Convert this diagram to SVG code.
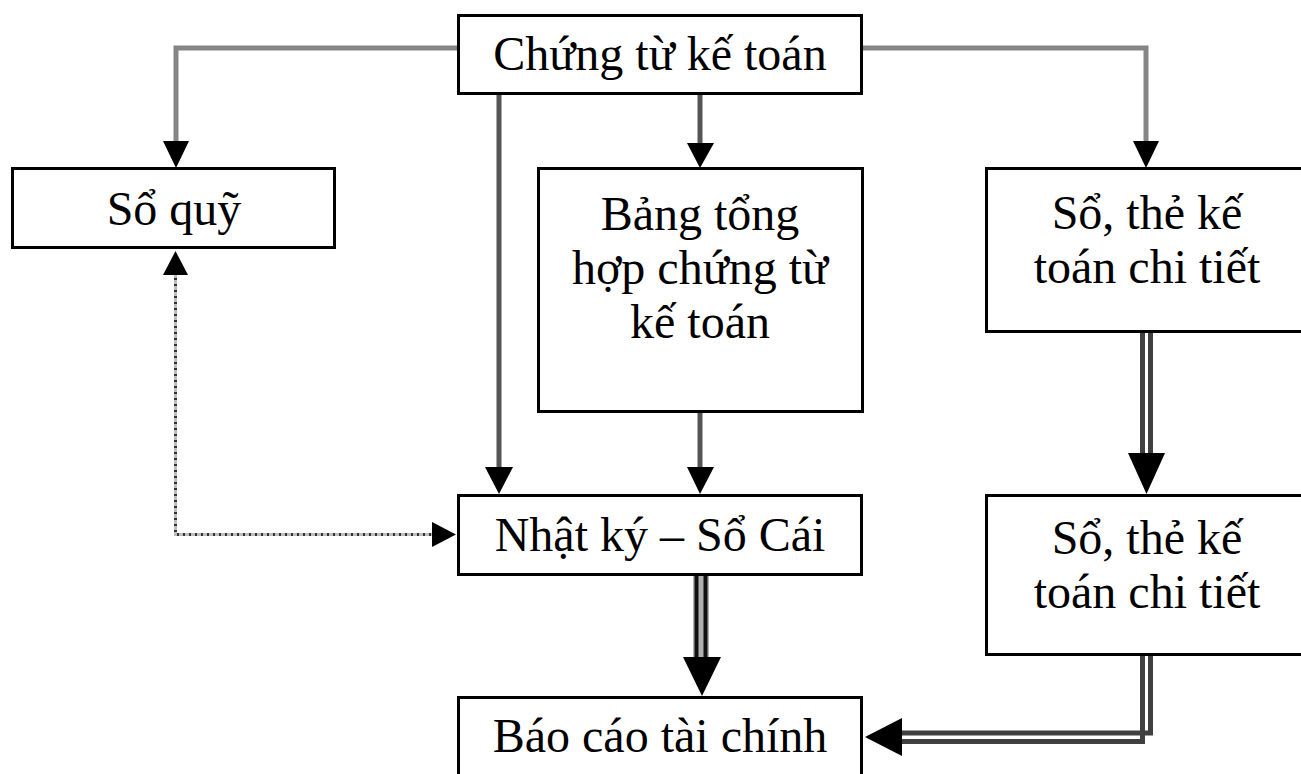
<svg xmlns="http://www.w3.org/2000/svg" width="1301" height="774" viewBox="0 0 1301 774">
<style>
.box{fill:#fff;stroke:#000;stroke-width:3}
.t{font-family:"Liberation Serif","Times New Roman",serif;font-size:48px;fill:#000;text-anchor:middle}
.s{fill:none;stroke:#858585;stroke-width:5}
.sv{fill:none;stroke:#555;stroke-width:5}
.dl{fill:none;stroke:#404040;stroke-width:5}
.dl2{fill:none;stroke:#111;stroke-width:4}
.dotbg{fill:none;stroke:#bdbdbd;stroke-width:3}
.dot{fill:none;stroke:#333;stroke-width:3;stroke-dasharray:2 4}
.ah{fill:#000}
</style>
<rect width="1301" height="774" fill="#fff"/>
<g id="connectors">
  <path class="s" d="M457 48 H176 V142"/>
  <path class="s" d="M863 48 H1146 V142"/>
  <path class="sv" d="M499 95 V468"/>
  <path class="sv" d="M700 95 V143"/>
  <path class="sv" d="M700 412 V468"/>
  <polygon class="ah" points="163,141 189,141 176,168"/>
  <polygon class="ah" points="1133,141 1159,141 1146,168"/>
  <polygon class="ah" points="485,467 513,467 499,494"/>
  <polygon class="ah" points="687,143 714,143 700,168"/>
  <polygon class="ah" points="687,467 714,467 700,494"/>
  <path class="dotbg" d="M175.5 272 V534.5 H434"/>
  <path class="dot" d="M175.5 272 V534.5 H434"/>
  <polygon class="ah" points="175.5,251 163,275 188,275"/>
  <polygon class="ah" points="456,534.5 432,522 432,547"/>
  <path d="M701 576 V660" fill="none" stroke="#b0b0b0" stroke-width="16"/>
  <path class="dl2" d="M696.5 576 V660"/>
  <path class="dl2" d="M705.5 576 V660"/>
  <polygon class="ah" points="683,657 721,657 702,696"/>
  <path class="dl" d="M1142.5 333 V456"/>
  <path class="dl" d="M1150.5 333 V456"/>
  <polygon class="ah" points="1128,453 1165,453 1146.5,494"/>
  <path class="dl" d="M1150.5 656 V733 H900"/>
  <path class="dl" d="M1142.5 656 V741.5 H900"/>
  <polygon class="ah" points="865,737 902,718 902,756"/>
</g>
<g id="chung-tu">
  <rect class="box" x="458.5" y="15.5" width="403" height="78"/>
  <text class="t" x="660" y="70">Chứng từ kế toán</text>
</g>
<g id="so-quy">
  <rect class="box" x="12.5" y="168.5" width="322" height="79"/>
  <text class="t" x="174" y="225">Sổ quỹ</text>
</g>
<g id="bang-tong-hop">
  <rect class="box" x="538.5" y="168.5" width="324" height="243"/>
  <text class="t" x="700" y="230">Bảng tổng</text>
  <text class="t" x="700" y="284">hợp chứng từ</text>
  <text class="t" x="700" y="338">kế toán</text>
</g>
<g id="so-the-1">
  <rect class="box" x="986.5" y="168.5" width="330" height="163"/>
  <text class="t" x="1147" y="229">Sổ, thẻ kế</text>
  <text class="t" x="1147" y="283">toán chi tiết</text>
</g>
<g id="nhat-ky">
  <rect class="box" x="458.5" y="495.5" width="403" height="79"/>
  <text class="t" x="660" y="551">Nhật ký – Sổ Cái</text>
</g>
<g id="so-the-2">
  <rect class="box" x="986.5" y="495.5" width="330" height="159"/>
  <text class="t" x="1147" y="554">Sổ, thẻ kế</text>
  <text class="t" x="1147" y="608">toán chi tiết</text>
</g>
<g id="bao-cao">
  <rect class="box" x="458.5" y="697.5" width="403" height="100"/>
  <text class="t" x="660" y="752">Báo cáo tài chính</text>
</g>
</svg>
